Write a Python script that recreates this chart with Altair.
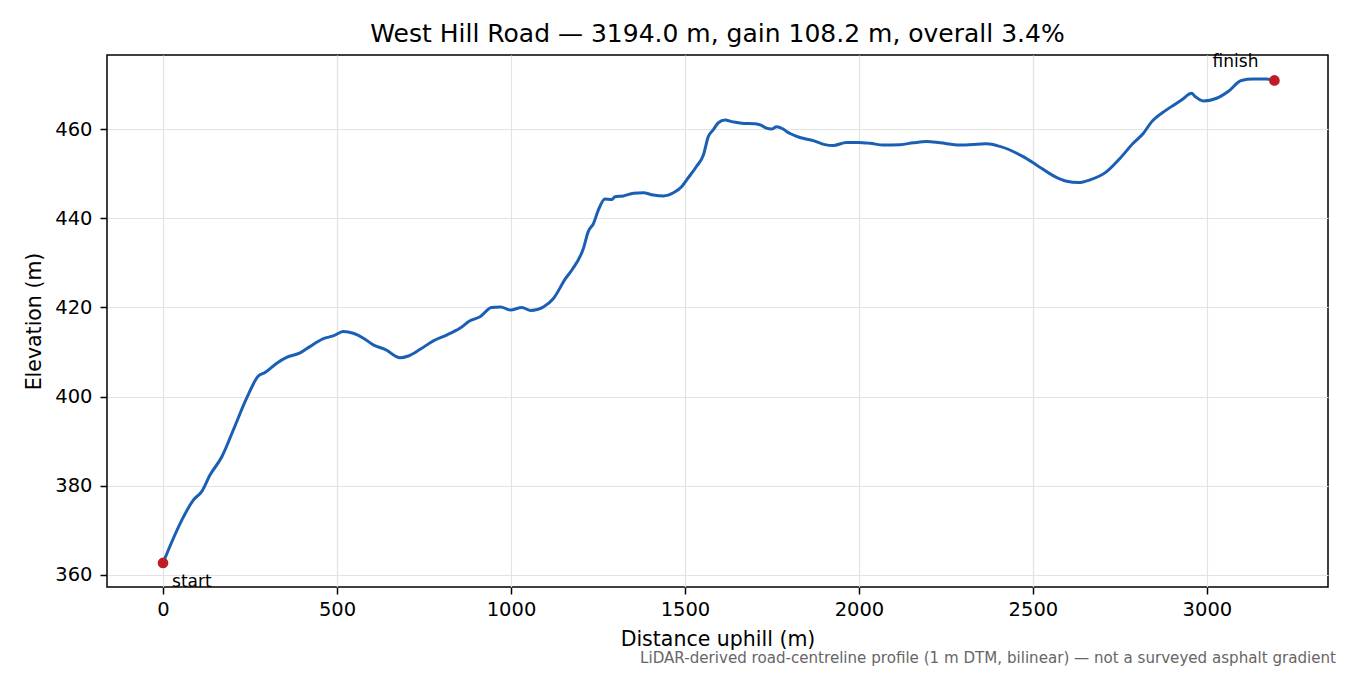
import pandas as pd
import altair as alt

# profile (distance along road, elevation)
dist = [0, 54, 87, 111, 135, 169, 202, 240, 274, 293, 327, 355, 394, 422, 461, 489,
        518, 547, 576, 604, 643, 667, 681, 705, 739, 777, 815, 853, 882, 911, 944,
        970, 999, 1031, 1057, 1093, 1122, 1157, 1176, 1208, 1222, 1237, 1251, 1270,
        1289, 1299, 1323, 1352, 1380, 1409, 1438, 1467, 1491, 1505, 1533, 1553, 1567,
        1581, 1596, 1615, 1638, 1663, 1701, 1720, 1734, 1749, 1763, 1782, 1797, 1802,
        1830, 1869, 1902, 1926, 1964, 1998, 2032, 2070, 2118, 2156, 2195, 2233, 2290,
        2367, 2405, 2472, 2511, 2559, 2597, 2631, 2664, 2711, 2750, 2788, 2817, 2841,
        2884, 2927, 2956, 2966, 2990, 3028, 3061, 3099, 3133, 3171, 3194]
elev = [362.7, 372.3, 376.8, 378.7, 382.4, 386.5, 392.5, 399.6, 404.6, 405.4, 407.5,
        408.8, 409.8, 411.2, 413.0, 413.6, 414.6, 414.2, 413.1, 411.6, 410.4, 409.1,
        408.7, 409.1, 410.6, 412.5, 413.8, 415.3, 417.0, 417.9, 420.0, 420.1, 419.4,
        420.0, 419.3, 420.1, 422.0, 426.5, 428.5, 433.2, 437.0, 438.8, 441.8, 444.3,
        444.2, 444.8, 445.0, 445.6, 445.7, 445.2, 445.0, 445.7, 447.1, 448.6, 451.6,
        454.2, 458.3, 459.8, 461.4, 462.0, 461.6, 461.3, 461.2, 460.8, 460.2, 460.0,
        460.5, 460.0, 459.2, 459.0, 458.1, 457.4, 456.5, 456.3, 457.0, 457.0, 456.8,
        456.4, 456.5, 456.9, 457.2, 456.9, 456.4, 456.7, 456.1, 453.8, 451.9, 449.5,
        448.3, 448.0, 448.6, 450.4, 453.4, 456.8, 459.0, 461.6, 464.3, 466.5, 468.0,
        467.3, 466.3, 466.9, 468.4, 470.9, 471.2, 471.2, 470.9]

ends_label = ["start", "finish"]
ends_dist = [dist[0], dist[-1]]
ends_elev = [elev[0], elev[-1]]

title = "West Hill Road \u2014 3194.0 m, gain 108.2 m, overall 3.4%"
note = "LiDAR-derived road-centreline profile (1 m DTM, bilinear) \u2014 not a surveyed asphalt gradient"

profile = pd.DataFrame({"dist": dist, "elev": elev})
ends = pd.DataFrame({"label": ends_label, "dist": ends_dist, "elev": ends_elev})

FONT = "DejaVu Sans"

x = alt.X("dist:Q",
          scale=alt.Scale(domain=[-161, 3348], nice=False, zero=False),
          axis=alt.Axis(title="Distance uphill (m)", values=[0, 500, 1000, 1500, 2000, 2500, 3000],
                        format="d", labelPadding=6, titlePadding=11))
y = alt.Y("elev:Q",
          scale=alt.Scale(domain=[357.3, 476.6], nice=False, zero=False),
          axis=alt.Axis(title="Elevation (m)", values=[360, 380, 400, 420, 440, 460],
                        format="d", labelPadding=8, titlePadding=10))

line = alt.Chart(profile).mark_line(
    color="#1a5fb4", strokeWidth=3, interpolate="monotone", strokeJoin="round"
).encode(x=x, y=y)

dots = alt.Chart(ends).mark_circle(color="#c01c28", size=115, opacity=1).encode(x=x, y=y)

start_txt = (alt.Chart(ends).transform_filter("datum.label == 'start'")
             .mark_text(align="left", baseline="alphabetic", dx=9, dy=24, fontSize=17, font=FONT)
             .encode(x=x, y=y, text="label:N"))
finish_txt = (alt.Chart(ends).transform_filter("datum.label == 'finish'")
              .mark_text(align="right", baseline="alphabetic", dx=-16, dy=-13.5, fontSize=17, font=FONT)
              .encode(x=x, y=y, text="label:N"))

# chart title and footnote as plain text marks placed against the plot frame
single = alt.Chart(ends).transform_filter("datum.label == 'start'")
head = single.mark_text(
    align="center", baseline="alphabetic", fontSize=25, color="black", font=FONT, text=title
).encode(x=alt.value(610.5), y=alt.value(-13))
foot = single.mark_text(
    align="right", baseline="alphabetic", fontSize=15.1, color="#666666", font=FONT, text=note
).encode(x=alt.value(1229), y=alt.value(608))

chart = (
    alt.layer(line, dots, start_txt, finish_txt, head, foot)
    .properties(
        width=1221, height=532,
        background="white",
        autosize=alt.AutoSizeParams(type="none"),
        padding={"left": 99, "top": 47, "right": 14, "bottom": 80},
    )
    .configure_view(stroke="black", strokeWidth=1.5)
    .configure_axis(
        grid=True, gridColor="#e3e3e3", gridWidth=1.2,
        domain=False, tickColor="black", tickSize=7, tickWidth=1.5,
        labelFont=FONT, labelFontSize=19.5, labelColor="black",
        titleFont=FONT, titleFontSize=20.5, titleFontWeight="normal", titleColor="black",
    )
)

chart.save("out.html", embed_options={"renderer": "svg", "actions": False})
